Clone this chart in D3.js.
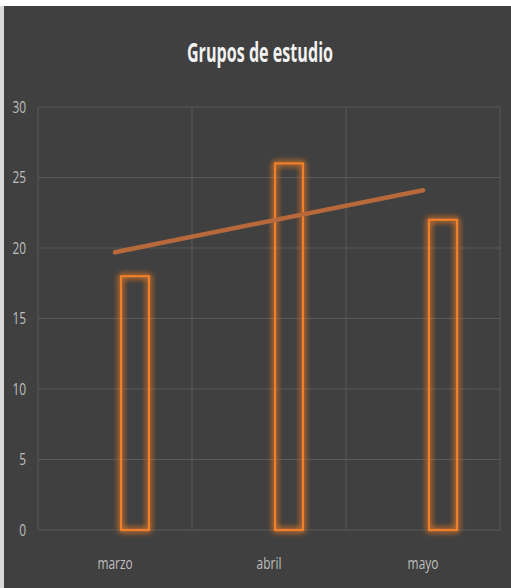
<!DOCTYPE html>
<html>
<head>
<meta charset="utf-8">
<script src="https://cdn.jsdelivr.net/npm/d3@7"></script>
<style>
  html, body { margin: 0; padding: 0; background: #ffffff; }
  svg { display: block; }
</style>
</head>
<body>
<svg id="chart"></svg>
<script>
// chart data
const months = ["marzo", "abril", "mayo"];
const grupos = [18, 26, 22];
const trend = [19.7, 24.1];          // trend line, first and last month
const yTicks = [0, 5, 10, 15, 20, 25, 30];

const W = 511, H = 588;
const margin = { top: 107, right: 11, bottom: 58, left: 38 };
const innerW = W - margin.left - margin.right;
const innerH = H - margin.top - margin.bottom;
const FONT = "'Open Sans', sans-serif";

// squeeze text horizontally so it looks like a narrow face
function narrow(sel, k) {
  sel.each(function () {
    const w = this.getComputedTextLength();
    d3.select(this).attr("textLength", w * k).attr("lengthAdjust", "spacingAndGlyphs");
  });
}

const svg = d3.select("#chart").attr("width", W).attr("height", H);

// glow around the bar outlines
const defs = svg.append("defs");
const glow = defs.append("filter").attr("id", "glow")
    .attr("x", "-60%").attr("y", "-20%").attr("width", "220%").attr("height", "140%");
glow.append("feGaussianBlur").attr("in", "SourceGraphic").attr("stdDeviation", 3).attr("result", "blur");
const merge = glow.append("feMerge");
merge.append("feMergeNode").attr("in", "blur");
merge.append("feMergeNode").attr("in", "blur");
merge.append("feMergeNode").attr("in", "SourceGraphic");

// panel
svg.append("rect").attr("x", 0).attr("y", 6).attr("width", 4).attr("height", H - 6).attr("fill", "#d9d9d9");
svg.append("rect").attr("x", 4).attr("y", 6).attr("width", W - 4).attr("height", H - 6).attr("fill", "#404040");

svg.append("text")
    .attr("x", 260).attr("y", 62)
    .attr("text-anchor", "middle")
    .attr("font-family", FONT)
    .attr("font-weight", "bold")
    .attr("font-size", 26)
    .attr("fill", "#f2f2f2")
    .text("Grupos de estudio")
    .call(narrow, 0.62);

const g = svg.append("g").attr("transform", `translate(${margin.left},${margin.top})`);

const x = d3.scaleBand().domain(months).range([0, innerW]);
const y = d3.scaleLinear().domain([0, 30]).range([innerH, 0]);

// grid
g.selectAll(".hgrid").data(yTicks).join("line")
    .attr("x1", 0).attr("x2", innerW)
    .attr("y1", d => y(d)).attr("y2", d => y(d))
    .attr("stroke", "#595959").attr("stroke-width", 1);
g.selectAll(".vgrid").data(months.concat(["end"])).join("line")
    .attr("x1", (d, i) => i * x.bandwidth()).attr("x2", (d, i) => i * x.bandwidth())
    .attr("y1", 0).attr("y2", innerH)
    .attr("stroke", "#595959").attr("stroke-width", 1);

// y axis labels
const yAxis = g.append("g").call(d3.axisLeft(y).tickValues(yTicks).tickSize(0).tickPadding(12));
yAxis.select(".domain").remove();
yAxis.selectAll("text")
    .attr("font-family", FONT)
    .attr("font-size", 17).attr("fill", "#bfbfbf")
    .call(narrow, 0.7);

// x axis labels
const xAxis = g.append("g").attr("transform", `translate(0,${innerH})`)
    .call(d3.axisBottom(x).tickSize(0).tickPadding(27));
xAxis.select(".domain").remove();
xAxis.selectAll("text")
    .attr("font-family", FONT)
    .attr("font-size", 17).attr("fill", "#bfbfbf")
    .call(narrow, 0.7);

// bars (outlined, shifted right of the category centre)
const barW = 28;
const barOffset = 20;
g.selectAll(".bar").data(grupos).join("rect")
    .attr("class", "bar")
    .attr("x", (d, i) => x(months[i]) + x.bandwidth() / 2 + barOffset - barW / 2)
    .attr("y", d => y(d))
    .attr("width", barW)
    .attr("height", d => y(0) - y(d))
    .attr("fill", "none")
    .attr("stroke", "#f07f2c")
    .attr("stroke-width", 2.2)
    .attr("filter", "url(#glow)");

// trend line
const line = d3.line()
    .x(d => x(d.m) + x.bandwidth() / 2)
    .y(d => y(d.v));
g.append("path")
    .datum([{ m: months[0], v: trend[0] }, { m: months[months.length - 1], v: trend[1] }])
    .attr("d", line)
    .attr("fill", "none")
    .attr("stroke", "#b8693c")
    .attr("stroke-width", 4.5)
    .attr("stroke-linecap", "round");
</script>
</body>
</html>
